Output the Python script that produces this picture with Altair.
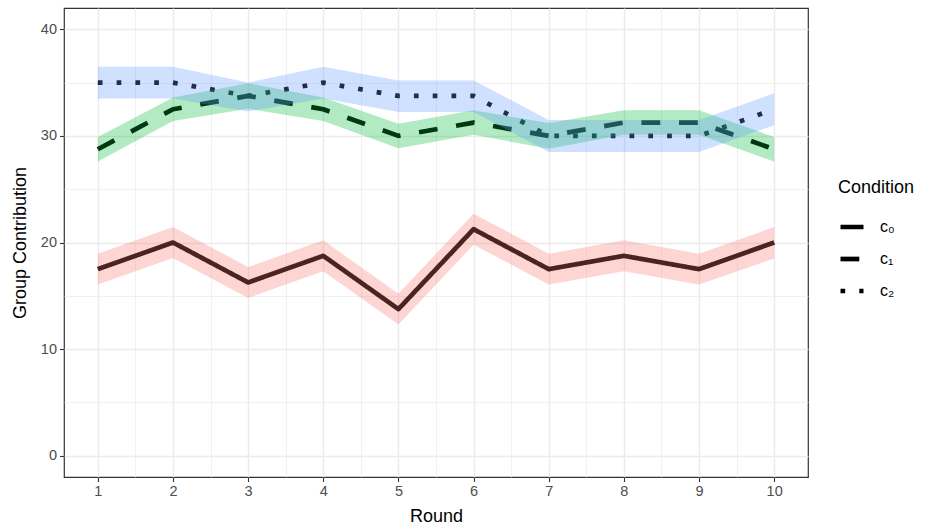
import altair as alt
import pandas as pd

# Rounds and condition labels
rounds = [1, 2, 3, 4, 5, 6, 7, 8, 9, 10]
conditions = ["c₀", "c₁", "c₂"]

# Mean group contribution per round, with lower/upper band limits
c0_mean = [17.5, 20.0, 16.25, 18.75, 13.75, 21.25, 17.5, 18.75, 17.5, 20.0]
c0_low = [16.05, 18.55, 14.8, 17.3, 12.3, 19.8, 16.05, 17.3, 16.05, 18.5]
c0_high = [18.95, 21.45, 17.7, 20.2, 15.2, 22.7, 18.95, 20.2, 18.95, 21.45]

c1_mean = [28.75, 32.5, 33.75, 32.5, 30.0, 31.25, 30.0, 31.25, 31.25, 28.75]
c1_low = [27.6, 31.4, 32.55, 31.4, 28.85, 30.1, 28.8, 30.1, 30.1, 27.6]
c1_high = [29.9, 33.6, 34.95, 33.6, 31.15, 32.4, 31.2, 32.4, 32.4, 29.9]

c2_mean = [35.0, 35.0, 33.75, 35.0, 33.75, 33.75, 30.0, 30.0, 30.0, 32.5]
c2_low = [33.5, 33.5, 32.3, 33.5, 32.25, 32.25, 28.5, 28.5, 28.5, 31.0]
c2_high = [36.5, 36.5, 35.0, 36.5, 35.2, 35.2, 31.5, 31.5, 31.5, 34.0]

band_colors = ["#F8766D", "#00BA38", "#619CFF"]

rows = []
for cond, mean, low, high in zip(
    conditions,
    [c0_mean, c1_mean, c2_mean],
    [c0_low, c1_low, c2_low],
    [c0_high, c1_high, c2_high],
):
    for r, m, lo, hi in zip(rounds, mean, low, high):
        rows.append({"Round": r, "Condition": cond, "Mean": m, "Low": lo, "High": hi})
df = pd.DataFrame(rows)

W, H = 744, 469
FONT = "Liberation Sans"

x_ticks = [1, 1.5, 2, 2.5, 3, 3.5, 4, 4.5, 5, 5.5, 6, 6.5, 7, 7.5, 8, 8.5, 9, 9.5, 10]
y_ticks = [0, 5, 10, 15, 20, 25, 30, 35, 40]
major = "datum.value % 1 === 0"
major_y = "datum.value % 10 === 0"

x_axis = alt.Axis(
    values=x_ticks,
    labelExpr=f"{major} ? '' + datum.value : ''",
    labelOverlap=False,
    grid=True,
    gridColor="#EBEBEB",
    gridWidth={"condition": {"test": major, "value": 1.4}, "value": 0.7},
    tickOpacity={"condition": {"test": major, "value": 1}, "value": 0},
    domain=False,
    tickColor="#333333",
    tickSize=4.5,
    tickWidth=1.1,
    labelColor="#4D4D4D",
    labelFontSize=14.5,
    labelPadding=3,
    labelFont=FONT,
    title="Round",
    titleFont=FONT,
    titleFontSize=18,
    titleFontWeight="normal",
    titleColor="black",
    titleX=W / 2,
    titleY=39,
    titleBaseline="middle",
)

y_axis = alt.Axis(
    values=y_ticks,
    labelExpr=f"{major_y} ? '' + datum.value : ''",
    labelOverlap=False,
    grid=True,
    gridColor="#EBEBEB",
    gridWidth={"condition": {"test": major_y, "value": 1.4}, "value": 0.7},
    tickOpacity={"condition": {"test": major_y, "value": 1}, "value": 0},
    domain=False,
    tickColor="#333333",
    tickSize=4.5,
    tickWidth=1.1,
    labelColor="#4D4D4D",
    labelFontSize=14.5,
    labelPadding=3,
    labelFont=FONT,
    title="Group Contribution",
    titleFont=FONT,
    titleFontSize=18,
    titleFontWeight="normal",
    titleColor="black",
    titleX=-44,
    titleY=H / 2,
    titleAngle=270,
    titleBaseline="middle",
    titleAlign="center",
)

x_enc = alt.X("Round:Q", scale=alt.Scale(domain=[0.55, 10.45], nice=False, zero=False), axis=x_axis)

lines = alt.Chart(df).mark_line(
    color="black", strokeWidth=4.7, strokeCap="butt", strokeJoin="round"
).encode(
    x=x_enc,
    y=alt.Y("Mean:Q", scale=alt.Scale(domain=[-2, 42], nice=False, zero=False), axis=y_axis),
    strokeDash=alt.StrokeDash(
        "Condition:N",
        scale=alt.Scale(domain=conditions, range=[[1, 0], [18.8, 18.8], [4.7, 14.1]]),
        legend=alt.Legend(
            orient="none",
            legendX=774,
            legendY=171,
            title="Condition",
            titleFont=FONT,
            titleFontSize=18,
            titleFontWeight="normal",
            titleColor="black",
            titlePadding=16,
            labelFont=FONT,
            labelFontSize=16,
            labelColor="black",
            labelOffset=14,
            symbolType="stroke",
            symbolStrokeWidth=4.7,
            symbolStrokeColor="black",
            symbolSize=529,
            rowPadding=8,
            padding=0,
        ),
    ),
)

bands = alt.Chart(df).mark_area(opacity=0.3).encode(
    x=x_enc,
    y=alt.Y("Low:Q"),
    y2="High:Q",
    fill=alt.Fill("Condition:N", scale=alt.Scale(domain=conditions, range=band_colors), legend=None),
)

chart = (
    alt.layer(lines, bands)
    .resolve_scale(fill="independent")
    .properties(
        width=W,
        height=H,
        autosize=alt.AutoSizeParams(type="none"),
        padding={"left": 64, "top": 8, "right": 122, "bottom": 54},
        background="white",
    )
    .configure_view(stroke="#333333", strokeWidth=1.2)
)

chart.save("out.html", embed_options={"renderer": "svg", "actions": False})
